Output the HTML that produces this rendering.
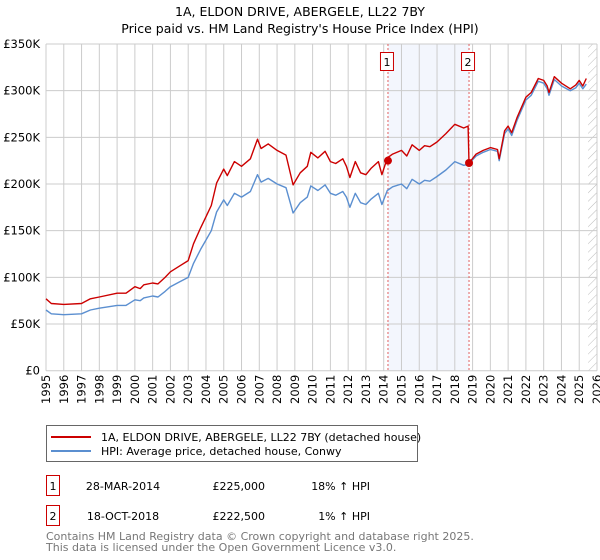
<!DOCTYPE html>
<html><head><meta charset="utf-8"><style>
body{margin:0;background:#fff;font-family:"Liberation Sans","DejaVu Sans",sans-serif;}
#wrap{position:relative;width:600px;height:560px;overflow:hidden}
</style></head><body>
<div id="wrap">
<svg id="svg" width="600" height="560" xmlns="http://www.w3.org/2000/svg" font-family="DejaVu Sans, Liberation Sans, sans-serif">
<defs>
<pattern id="hatch" width="6" height="6" patternUnits="userSpaceOnUse" patternTransform="rotate(45)">
<line x1="0" y1="0" x2="0" y2="6" stroke="#bbb" stroke-width="1"/></pattern>
</defs>
<text x="300" y="16" text-anchor="middle" font-size="12.5" fill="#000">1A, ELDON DRIVE, ABERGELE, LL22 7BY</text>
<text x="300" y="33" text-anchor="middle" font-size="12.5" fill="#000">Price paid vs. HM Land Registry's House Price Index (HPI)</text>
<g id="plot"></g>
<g>
<rect x="46.5" y="425.5" width="371" height="36" fill="#fff" stroke="#666"/>
<line x1="51" y1="437" x2="91" y2="437" stroke="#cc0000" stroke-width="2"/>
<text x="101" y="441" font-size="11">1A, ELDON DRIVE, ABERGELE, LL22 7BY (detached house)</text>
<line x1="51" y1="451" x2="91" y2="451" stroke="#5b8fd0" stroke-width="2"/>
<text x="101" y="455" font-size="11">HPI: Average price, detached house, Conwy</text>
</g>
<g font-size="11">
<rect x="46.5" y="475.5" width="13" height="20" fill="#fff" stroke="#cc0000"/>
<text x="53" y="490" text-anchor="middle">1</text>
<text x="123" y="490" text-anchor="middle">28-MAR-2014</text>
<text x="265" y="490" text-anchor="end">£225,000</text>
<text x="370" y="490" text-anchor="end">18% ↑ HPI</text>
<rect x="46.5" y="505.5" width="13" height="20" fill="#fff" stroke="#cc0000"/>
<text x="53" y="520" text-anchor="middle">2</text>
<text x="123" y="520" text-anchor="middle">18-OCT-2018</text>
<text x="265" y="520" text-anchor="end">£222,500</text>
<text x="370" y="520" text-anchor="end">1% ↑ HPI</text>
</g>
<text x="46" y="540" font-size="11" fill="#777">Contains HM Land Registry data © Crown copyright and database right 2025.</text>
<text x="46" y="551" font-size="11" fill="#777">This data is licensed under the Open Government Licence v3.0.</text>
</svg>
</div>
<script>
const yTicks=[0,50,100,150,200,250,300,350];
const yTickLabels=["£0","£50K","£100K","£150K","£200K","£250K","£300K","£350K"];
const xYears=[1995,1996,1997,1998,1999,2000,2001,2002,2003,2004,2005,2006,2007,2008,2009,2010,2011,2012,2013,2014,2015,2016,2017,2018,2019,2020,2021,2022,2023,2024,2025,2026];
const hpiDates=[1995.0,1995.3,1996,1997,1997.5,1998,1999,1999.5,2000,2000.3,2000.5,2001,2001.3,2001.7,2002,2002.5,2003,2003.3,2003.7,2004,2004.3,2004.6,2005,2005.2,2005.6,2006,2006.5,2006.9,2007.1,2007.5,2008,2008.5,2008.9,2009.3,2009.7,2009.9,2010.3,2010.7,2011,2011.3,2011.7,2011.9,2012.1,2012.4,2012.7,2013,2013.3,2013.7,2013.9,2014.2,2014.5,2015,2015.3,2015.6,2016,2016.3,2016.6,2017,2017.5,2018,2018.5,2018.75,2018.8,2019.2,2019.6,2020,2020.4,2020.5,2020.8,2021,2021.2,2021.5,2022,2022.3,2022.7,2023,2023.2,2023.3,2023.6,2024,2024.5,2024.8,2025,2025.2,2025.4];
const hpiValues=[65,61,60,61,65,67,70,70,76,75,78,80,79,85,90,95,100,115,130,140,150,170,183,177,190,186,192,210,202,206,200,196,169,180,186,198,193,199,190,188,192,186,175,190,180,178,184,190,178,193,197,200,195,205,200,204,203,208,215,224,220,221,222,230,234,237,235,225,254,259,252,268,290,295,310,308,302,295,312,305,300,303,308,302,307];
const priceValues=[77,72,71,72,77,79,83,83,90,88,92,94,93,100,106,112,118,136,153,165,177,201,216,209,224,219,227,248,238,243,236,231,199,212,219,234,228,235,224,222,227,219,207,224,212,210,217,224,210,228,232,236,230,242,236,241,240,245,254,264,260,262,222.5,232,236,239,237,227,257,262,255,271,293,298,313,311,305,298,315,308,302,306,311,305,313];
const saleDates=[2014.24,2018.8];
const salePrices=[225,222.5];
const saleLabels=["1","2"];

const X0=46,X1=597,Y0=370.7,Y1=44;
const x=t=>X0+(t-1995)/(2026-1995)*(X1-X0);
const y=v=>Y0-(v/350)*(Y0-Y1);
const NS="http://www.w3.org/2000/svg";
const plot=document.getElementById('plot');
function mk(tag,attrs,parent){const e=document.createElementNS(NS,tag);for(const k in attrs)e.setAttribute(k,attrs[k]);(parent||plot).appendChild(e);return e;}

let r=mk('rect',{x:x(saleDates[0]),y:Y1,width:x(saleDates[1])-x(saleDates[0]),height:Y0-Y1,fill:'#f3f6fd'});


let h=mk('rect',{x:x(2025.5),y:Y1,width:X1-x(2025.5),height:Y0-Y1,fill:'url(#hatch)'});


xYears.forEach(yr=>{
  let l=mk('line',{x1:x(yr),x2:x(yr),y1:Y1,y2:Y0,stroke:'#cccccc','stroke-width':1});
  
  
  let t=mk('text',{x:0,y:0,'font-size':11.5,'text-anchor':'end',transform:`translate(${x(yr)+4},${Y0+4}) rotate(-90)`});
  t.textContent=yr;
  
  
});
yTicks.forEach((v,i)=>{
  let l=mk('line',{x1:X0,x2:X1,y1:y(v),y2:y(v),stroke:'#cccccc','stroke-width':1});
  
  
  let t=mk('text',{x:X0-6,y:y(v)+4,'font-size':11.5,'text-anchor':'end'});
  t.textContent=yTickLabels[i];
  
  
});
saleDates.forEach((d,i)=>{
  let l=mk('line',{x1:x(d),x2:x(d),y1:Y1,y2:Y0,stroke:'#e06060','stroke-width':1,'stroke-dasharray':'2,2'});
  
  
  let b=mk('rect',{x:x(d)-7.5,y:52.5,width:13,height:18,fill:'#fff',stroke:'#cc0000'});
  
  
  let t=mk('text',{x:x(d)-1,y:66,'font-size':11,'text-anchor':'middle'});
  t.textContent=saleLabels[i];
  
  
});
function path(ds,vs){return ds.map((d,i)=>(i?'L':'M')+x(d).toFixed(1)+','+y(vs[i]).toFixed(1)).join('');}
let pb=mk('path',{d:path(hpiDates,hpiValues),fill:'none',stroke:'#5b8fd0','stroke-width':1.4,'stroke-linejoin':'round'});


let pr=mk('path',{d:path(hpiDates,priceValues),fill:'none',stroke:'#cc0000','stroke-width':1.4,'stroke-linejoin':'round'});


saleDates.forEach((d,i)=>{
  let c=mk('circle',{cx:x(d),cy:y(salePrices[i]),r:4,fill:'#cc0000'});
  
  
});
</script>
</body></html>
